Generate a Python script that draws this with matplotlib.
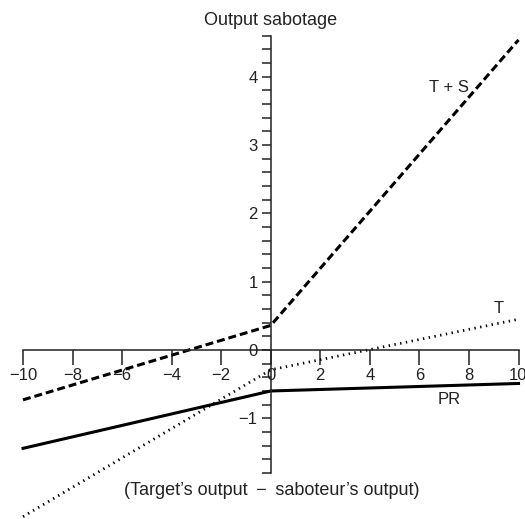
import matplotlib
matplotlib.use("Agg")
from matplotlib import pyplot as plt
import numpy as np

# values (x = target's output - saboteur's output)
x_vals = [-10, 0, 10]
t_plus_s = [-0.73, 0.36, 4.54]
t_only = [-2.44, -0.29, 0.45]
pr = [-1.44, -0.60, -0.49]

x_ticks = [-10, -8, -6, -4, -2, 0, 2, 4, 6, 8, 10]
y_ticks = [-1, 0, 1, 2, 3, 4]
y_min, y_max = -1.8, 4.6

plt.rcParams['font.family'] = ['Liberation Sans', 'DejaVu Sans']
plt.rcParams['font.size'] = 12

fig = plt.figure(figsize=(5.25, 5.19), dpi=100)
ax = fig.add_axes([23 / 525, 0, 495.5 / 525, 1])
ax.set_xlim(-10, 10)
ax.set_ylim(-169 / 68.3, 350 / 68.3)

# centered axes
for side in ['top', 'right']:
    ax.spines[side].set_visible(False)
ax.spines['left'].set_position(('data', 0))
ax.spines['bottom'].set_position(('data', 0))
ax.spines['left'].set_bounds(y_min, y_max)
ax.spines['bottom'].set_bounds(-10, 10)
for side in ['left', 'bottom']:
    ax.spines[side].set_linewidth(1.1)
    ax.spines[side].set_color('#222222')

ax.set_xticks(x_ticks)
ax.set_xticklabels([str(v).replace('-', '\u2212') for v in x_ticks])
ax.set_yticks(y_ticks)
ax.set_yticklabels([str(v).replace('-', '\u2212') for v in y_ticks])
ax.set_yticks(np.round(np.arange(y_min, y_max + 0.01, 0.2), 2), minor=True)
ax.tick_params(axis='x', direction='out', length=11, width=1.1, pad=2, colors='#222222')
ax.tick_params(axis='y', which='both', direction='out', length=6.5, width=1.1, pad=3, colors='#222222')

ax.plot(x_vals, t_plus_s, color='black', lw=2.2, dashes=(2.6, 1.3), clip_on=False)
ax.plot(x_vals, t_only, color='black', lw=2.0, dashes=(0.5, 1.6), clip_on=False)
ax.plot(x_vals, pr, color='black', lw=2.2, clip_on=False)

ax.text(7.2, 3.84, 'T + S', ha='center', va='center', color='#222222')
ax.text(9.2, 0.61, 'T', ha='center', va='center', color='#222222')
ax.text(7.2, -0.73, 'PR', ha='center', va='center', color='#222222')
ax.text(0, 4.83, 'Output sabotage', ha='center', va='center', color='#222222', fontsize=13)
ax.text(0.05, -2.05, '(Target\u2019s output \u2009\u2212\u2009 saboteur\u2019s output)', ha='center', va='center',
        color='#222222', fontsize=13)

plt.savefig('out.png', dpi=100)
